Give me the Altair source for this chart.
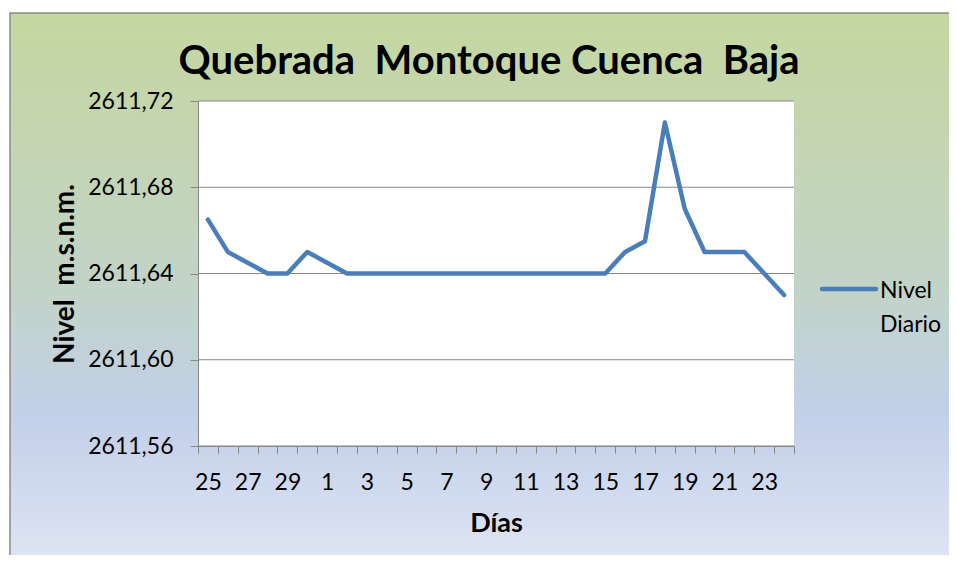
import altair as alt
import pandas as pd

dias = [25, 26, 27, 28, 29, 30, 1, 2, 3, 4, 5, 6, 7, 8, 9, 10, 11, 12, 13, 14, 15,
        16, 17, 18, 19, 20, 21, 22, 23, 24]
nivel = [2611.665, 2611.650, 2611.645, 2611.640, 2611.640, 2611.650, 2611.645, 2611.640,
         2611.640, 2611.640, 2611.640, 2611.640, 2611.640, 2611.640, 2611.640, 2611.640,
         2611.640, 2611.640, 2611.640, 2611.640, 2611.640, 2611.650, 2611.655, 2611.710,
         2611.670, 2611.650, 2611.650, 2611.650, 2611.640, 2611.630]
y_ticks = [2611.56, 2611.60, 2611.64, 2611.68, 2611.72]
serie = "Nivel Diario"
leyenda = ["Nivel", "Diario"]
titulo = "Quebrada\u00a0 Montoque Cuenca\u00a0 Baja"
titulo_y = "Nivel\u00a0 m.s.n.m."
titulo_x = "Días"

df = pd.DataFrame({"dia": dias, "nivel": nivel, "serie": serie})
grid_df = pd.DataFrame({"v": y_ticks})
leg_df = pd.DataFrame({"serie": [serie]})

W, H = 596, 345
FONT = "Lato"
GRAY = "#868686"
BLUE = "#4a7ebb"

y_scale = alt.Scale(domain=[y_ticks[0], y_ticks[-1]], nice=False, zero=False)
y_axis = alt.Axis(
    title=titulo_y,
    values=y_ticks,
    labelExpr="replace(format(datum.value, '.2f'), '.', ',')",
    grid=False,
    tickSize=8,
    labelPadding=17,
    titlePadding=8,
    titleFontSize=28,
    zindex=2,
)
color_scale = alt.Scale(domain=[serie], range=[BLUE])

bg = alt.Chart(alt.Data(values=[{}])).mark_rect(
    fill=alt.Gradient(
        gradient="linear",
        stops=[
            alt.GradientStop(color="#c5d79f", offset=0),
            alt.GradientStop(color="#c2d3c8", offset=0.5),
            alt.GradientStop(color="#c3cfe9", offset=0.72),
            alt.GradientStop(color="#dfe6f4", offset=1),
        ],
        x1=0, x2=0, y1=0, y2=1,
    ),
    stroke="#8a8a8a",
    strokeWidth=1.5,
).encode(x=alt.value(-188), x2=alt.value(W + 185), y=alt.value(-88), y2=alt.value(H + 125))

plot_bg = alt.Chart(alt.Data(values=[{}])).mark_rect(fill="white").encode(
    x=alt.value(0), x2=alt.value(W), y=alt.value(0), y2=alt.value(H)
)

grid = alt.Chart(grid_df).mark_rule(color=GRAY, strokeWidth=1).encode(
    y=alt.Y("v:Q", scale=y_scale, axis=y_axis)
)

line = alt.Chart(df).mark_line(strokeWidth=4.5, strokeJoin="round", strokeCap="round").encode(
    x=alt.X(
        "dia:O",
        sort=dias,
        scale=alt.Scale(type="band", paddingInner=0, paddingOuter=0),
        axis=alt.Axis(
            title=titulo_x,
            labelExpr="datum.value % 2 == 1 ? datum.label : ''",
            labelAngle=0,
            tickBand="extent",
            tickSize=7,
            labelPadding=18,
            titlePadding=16,
            zindex=2,
        ),
    ),
    y=alt.Y("nivel:Q", scale=y_scale, axis=y_axis),
    color=alt.Color("serie:N", scale=color_scale, legend=None),
)

leg_symbol = alt.Chart(leg_df).mark_rule(strokeWidth=4.5, strokeCap="round").encode(
    x=alt.value(W + 28), x2=alt.value(W + 82), y=alt.value(188),
    color=alt.Color("serie:N", scale=color_scale, legend=None),
)
leg_text = alt.Chart(leg_df).mark_text(
    align="left", baseline="alphabetic", font=FONT, fontSize=23, color="black", lineHeight=34
).encode(x=alt.value(W + 86), y=alt.value(197), text=alt.value(leyenda))

chart = alt.layer(bg, plot_bg, grid, line, leg_symbol, leg_text).properties(
    width=W,
    height=H,
    padding={"left": 190, "top": 93, "right": 155, "bottom": 109},
    autosize=alt.AutoSizeParams(type="none"),
    background="white",
    title=alt.TitleParams(
        titulo,
        font=FONT,
        fontSize=40,
        fontWeight="bold",
        color="black",
        anchor="middle",
        frame="group",
        baseline="alphabetic",
        offset=-102,
        dx=-7,
        zindex=2,
    ),
).configure_view(strokeWidth=0).configure_axis(
    domainColor=GRAY,
    tickColor=GRAY,
    labelFont=FONT,
    labelFontSize=23,
    labelColor="black",
    titleFont=FONT,
    titleFontSize=27,
    titleFontWeight="bold",
    titleColor="black",
    labelOverlap=False,
)

chart.save("out.html", embed_options={"renderer": "svg", "actions": False})
